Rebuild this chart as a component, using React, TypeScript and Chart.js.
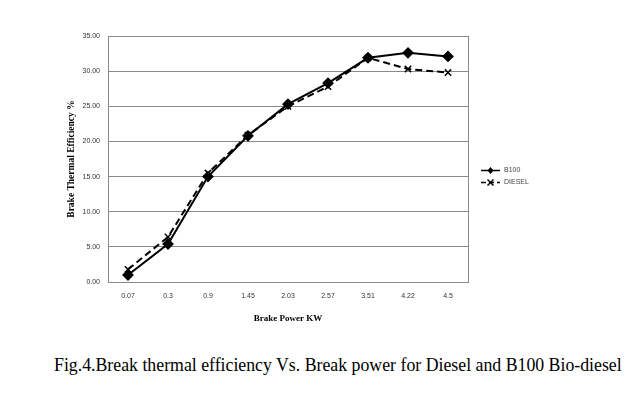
import React, { useEffect, useRef } from "react";
import { Chart, registerables } from "chart.js";

Chart.register(...registerables);

const categories = ["0.07", "0.3", "0.9", "1.45", "2.03", "2.57", "3.51", "4.22", "4.5"];
const b100 = [1.0, 5.4, 15.0, 20.8, 25.3, 28.3, 31.9, 32.6, 32.1];
const diesel = [1.8, 6.4, 15.5, 20.9, 25.0, 27.8, 31.9, 30.3, 29.8];
const yTicks = [0, 5, 10, 15, 20, 25, 30, 35];

const frameColor = "#8a8a8a";

const areaBorder = {
  id: "areaBorder",
  beforeDatasetsDraw(chart: any) {
    const { ctx, chartArea } = chart;
    ctx.save();
    ctx.strokeStyle = frameColor;
    ctx.lineWidth = 1;
    ctx.beginPath();
    ctx.moveTo(Math.round(chartArea.right) + 0.5, chartArea.top);
    ctx.lineTo(Math.round(chartArea.right) + 0.5, chartArea.bottom);
    ctx.stroke();
    ctx.restore();
  },
};

const customLegend = {
  id: "customLegend",
  afterDraw(chart: any) {
    const { ctx } = chart;
    const x0 = 481;
    const rows = [170, 182];
    ctx.save();
    chart.data.datasets.forEach((ds: any, i: number) => {
      const y = rows[i];
      ctx.strokeStyle = "#000";
      ctx.lineWidth = 1.5;
      ctx.setLineDash(ds.borderDash ? [5, 3] : []);
      ctx.beginPath();
      ctx.moveTo(x0, y + 0.5);
      ctx.lineTo(x0 + 19, y + 0.5);
      ctx.stroke();
      ctx.setLineDash([]);
      const cx = x0 + 9.5;
      if (ds.pointStyle === "rectRot") {
        ctx.fillStyle = "#000";
        ctx.beginPath();
        ctx.moveTo(cx, y - 3);
        ctx.lineTo(cx + 3, y + 0.5);
        ctx.lineTo(cx, y + 4);
        ctx.lineTo(cx - 3, y + 0.5);
        ctx.closePath();
        ctx.fill();
      } else {
        ctx.lineWidth = 1.5;
        ctx.beginPath();
        ctx.moveTo(cx - 3, y - 2.5);
        ctx.lineTo(cx + 3, y + 3.5);
        ctx.moveTo(cx + 3, y - 2.5);
        ctx.lineTo(cx - 3, y + 3.5);
        ctx.stroke();
      }
      ctx.fillStyle = "#444";
      ctx.font = "7px 'Liberation Sans', sans-serif";
      ctx.textBaseline = "middle";
      ctx.textAlign = "left";
      ctx.fillText(ds.label, x0 + 23, y + 0.5);
    });
    ctx.restore();
  },
};

export default function App() {
  const ref = useRef<HTMLCanvasElement | null>(null);

  useEffect(() => {
    if (!ref.current) return;
    const chart = new Chart(ref.current, {
      type: "line",
      data: {
        labels: categories,
        datasets: [
          {
            label: "B100",
            data: b100,
            borderColor: "#000",
            backgroundColor: "#000",
            borderWidth: 2,
            pointStyle: "rectRot",
            pointRadius: 4.5,
            pointBorderColor: "#000",
            pointBackgroundColor: "#000",
            tension: 0,
          },
          {
            label: "DIESEL",
            data: diesel,
            borderColor: "#000",
            backgroundColor: "#000",
            borderWidth: 2,
            borderDash: [7, 4],
            pointStyle: "crossRot",
            pointRadius: 4.5,
            pointBorderWidth: 1.5,
            pointBorderColor: "#000",
            tension: 0,
          },
        ],
      },
      options: {
        responsive: false,
        animation: false,
        layout: { padding: { left: 60, right: 175, top: 36, bottom: 16 } },
        plugins: {
          legend: { display: false },
          tooltip: { enabled: false },
        },
        scales: {
          x: {
            offset: true,
            grid: { display: false, drawTicks: false, offset: true },
            border: { display: true, color: frameColor, width: 1 },
            ticks: {
              color: "#333",
              font: { family: "'Liberation Sans', sans-serif", size: 7 },
              padding: 10,
              maxRotation: 0,
            },
            title: {
              display: true,
              text: "Brake Power KW",
              color: "#000",
              font: { family: "'Liberation Serif', serif", size: 9, weight: "bold" },
              padding: { top: 0, bottom: 0 },
            },
            afterFit(scale: any) {
              scale.height = 42;
            },
          },
          y: {
            min: 0,
            max: 35,
            afterBuildTicks(scale: any) {
              scale.ticks = yTicks.map((v) => ({ value: v }));
            },
            grid: { color: frameColor, lineWidth: 1, drawTicks: false },
            border: { display: true, color: frameColor, width: 1 },
            ticks: {
              color: "#333",
              font: { family: "'Liberation Sans', sans-serif", size: 7 },
              padding: 8,
              callback: (v: any) => Number(v).toFixed(2),
            },
            title: {
              display: true,
              text: "Brake Thermal Efficiency %",
              color: "#000",
              font: { family: "'Liberation Serif', serif", size: 9.5, weight: "bold" },
              padding: { top: 6, bottom: 0 },
            },
            afterFit(scale: any) {
              scale.width = 48;
            },
          },
        },
      },
      plugins: [areaBorder, customLegend],
    });
    return () => chart.destroy();
  }, []);

  return (
    <div style={{ position: "absolute", left: 0, top: 0, width: 643, height: 396, background: "#fff" }}>
      <canvas ref={ref} width={643} height={340} style={{ display: "block" }} />
      <div
        style={{
          position: "absolute",
          left: 54,
          top: 355,
          fontFamily: "'Liberation Serif', 'Times New Roman', serif",
          fontSize: 17.8,
          color: "#000",
          whiteSpace: "nowrap",
        }}
      >
        Fig.4.Break thermal efficiency Vs. Break power for Diesel and B100 Bio-diesel
      </div>
    </div>
  );
}
